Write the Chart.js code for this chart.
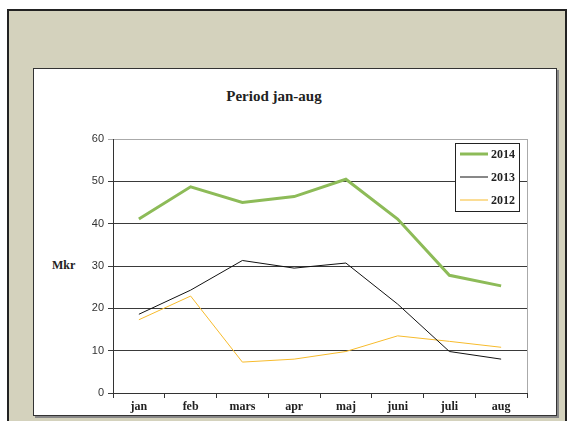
<!DOCTYPE html>
<html>
<head>
<meta charset="utf-8">
<script src="https://cdn.jsdelivr.net/npm/chart.js@4/dist/chart.umd.min.js"></script>
<style>
    body { margin: 0; background: #fff; width: 571px; height: 421px; overflow: hidden; position: relative; }
    .frame { position: absolute; left: 7px; top: 9px; width: 556px; height: 420px; border: 2px solid #222; background: #d4d2bd; }
    .card { position: absolute; left: 33px; top: 68px; width: 522px; height: 346px; border: 1px solid #333; background: #fff; box-shadow: 2px 2px 0 #888; }
    .card canvas { position: absolute; left: 0; top: 0; }
    .title { position: absolute; left: 0; width: 480px; top: 19px; text-align: center; font: bold 15px "Liberation Serif", serif; color: #222; }
    .ylabel { position: absolute; left: 18px; top: 189px; font: bold 12px "Liberation Serif", serif; color: #222; }
</style>
</head>
<body>
<div class="frame"></div>
<div class="card">
    <div class="title">Period jan-aug</div>
    <div class="ylabel">Mkr</div>
    <canvas id="chart" width="522" height="347"></canvas>
</div>
<script>
// Data
const months = ['jan', 'feb', 'mars', 'apr', 'maj', 'juni', 'juli', 'aug'];
const years = ['2014', '2013', '2012'];
const values2014 = [41.1, 48.7, 45.0, 46.4, 50.5, 41.1, 27.8, 25.3];
const values2013 = [18.6, 24.3, 31.3, 29.5, 30.7, 21.0, 9.8, 8.0];
const values2012 = [17.3, 22.9, 7.3, 8.0, 9.8, 13.5, 12.2, 10.8];
const yTicks = [0, 10, 20, 30, 40, 50, 60];

const serif = '"Liberation Serif", serif';

// Legend box drawn on the canvas, and the light plot-area border on the right
const boxLegend = {
    id: 'boxLegend',
    afterDraw(chart) {
        const ctx = chart.ctx;
        const area = chart.chartArea;
        ctx.save();
        ctx.strokeStyle = '#aaa';
        ctx.lineWidth = 1;
        ctx.beginPath();
        ctx.moveTo(area.right + 0.5, area.top);
        ctx.lineTo(area.right + 0.5, area.bottom);
        ctx.stroke();

        const x = 421.5, y = 74.5, w = 64, h = 68;
        ctx.fillStyle = '#fff';
        ctx.fillRect(x, y, w, h);
        ctx.strokeStyle = '#222';
        ctx.strokeRect(x, y, w, h);
        chart.data.datasets.forEach((ds, i) => {
            const ly = 85 + i * 23;
            ctx.strokeStyle = ds.borderColor;
            ctx.lineWidth = ds.borderWidth;
            ctx.beginPath();
            ctx.moveTo(426, ly);
            ctx.lineTo(454, ly);
            ctx.stroke();
            ctx.fillStyle = '#222';
            ctx.font = 'bold 12px ' + serif;
            ctx.textBaseline = 'middle';
            ctx.fillText(ds.label, 457, ly + 1);
        });
        ctx.restore();
    }
};

new Chart(document.getElementById('chart'), {
    type: 'line',
    data: {
        labels: months,
        datasets: [
            { label: years[0], data: values2014, borderColor: '#8dbb58', borderWidth: 3 },
            { label: years[1], data: values2013, borderColor: '#111', borderWidth: 1 },
            { label: years[2], data: values2012, borderColor: '#f7bb2c', borderWidth: 1 }
        ]
    },
    options: {
        responsive: false,
        animation: false,
        layout: { padding: { left: 0, right: 29, top: 70, bottom: 0 } },
        elements: { point: { radius: 0 }, line: { tension: 0 } },
        plugins: { legend: { display: false }, tooltip: { enabled: false } },
        scales: {
            x: {
                offset: true,
                afterFit: scale => { scale.height = 23; },
                grid: { offset: true, drawOnChartArea: false, drawTicks: true, tickLength: 5, color: '#333' },
                border: { color: '#333', width: 1 },
                ticks: { color: '#222', font: { family: serif, size: 12, weight: 'bold' }, padding: 2 }
            },
            y: {
                min: 0,
                max: 60,
                afterFit: scale => { scale.width = 79; },
                afterBuildTicks: scale => { scale.ticks = yTicks.map(v => ({ value: v })); },
                grid: {
                    color: c => (c.tick && c.tick.value === 60 ? '#aaa' : '#3a3a3a'),
                    tickLength: 5
                },
                border: { color: '#333', width: 1 },
                ticks: { color: '#333', font: { family: '"Liberation Sans", Arial, sans-serif', size: 11 }, padding: 4 }
            }
        }
    },
    plugins: [boxLegend]
});
</script>
</body>
</html>
